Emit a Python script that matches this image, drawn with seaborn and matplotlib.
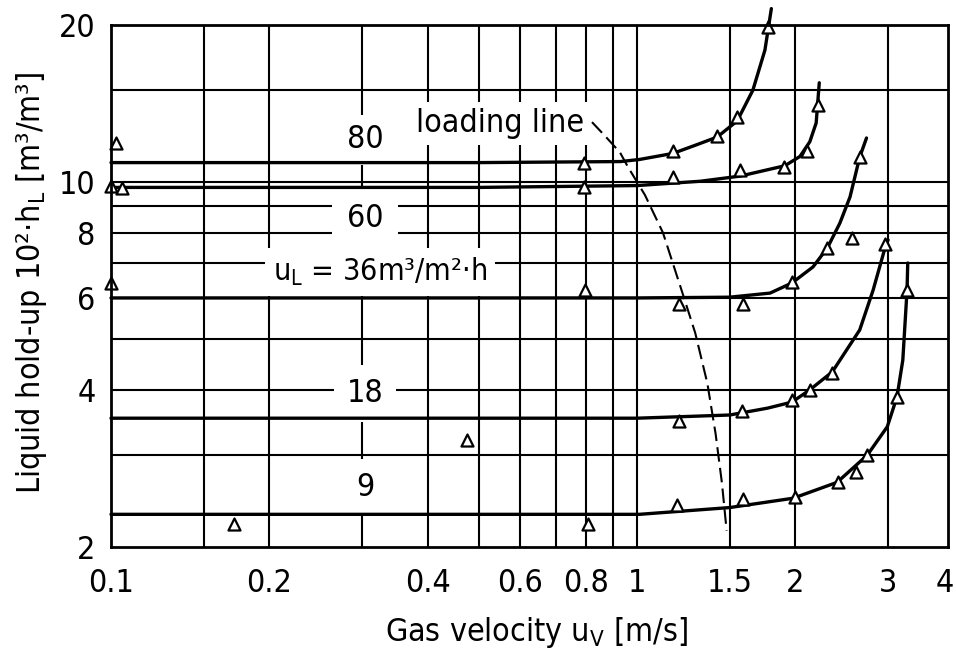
import numpy as np
import pandas as pd
import matplotlib
matplotlib.use("Agg")
import matplotlib.pyplot as plt
from matplotlib import font_manager as fm
from matplotlib.ticker import FixedLocator, FixedFormatter, NullLocator
import seaborn as sns

# ---------------- data ----------------
# liquid load labels [m3/m2 h]
loads = ["80", "60", "36", "18", "9"]

# drawn curves (gas velocity [m/s], hold-up 10^2 h_L)
c80_x = [0.1, 0.5, 0.93, 1.01, 1.17, 1.30, 1.42, 1.55, 1.66, 1.75, 1.80]
c80_y = [10.9, 10.9, 10.95, 11.05, 11.35, 11.8, 12.2, 13.1, 15.0, 17.9, 21.5]
c60_x = [0.1, 0.5, 1.0, 1.32, 1.57, 1.91, 2.04, 2.13, 2.19, 2.22]
c60_y = [9.77, 9.77, 9.85, 10.04, 10.27, 10.75, 11.2, 11.95, 12.98, 15.5]
c36_x = [0.1, 1.0, 1.5, 1.79, 1.97, 2.16, 2.30, 2.43, 2.54, 2.65, 2.73]
c36_y = [6.0, 6.0, 6.02, 6.13, 6.41, 6.88, 7.48, 8.35, 9.37, 11.17, 12.15]
c18_x = [0.1, 1.0, 1.50, 1.77, 1.97, 2.13, 2.35, 2.65, 2.81, 2.96, 3.0]
c18_y = [3.53, 3.53, 3.58, 3.69, 3.79, 4.0, 4.33, 5.21, 6.21, 7.48, 7.75]
c9_x = [0.1, 1.01, 1.50, 1.98, 2.40, 2.74, 2.99, 3.12, 3.20, 3.26, 3.27]
c9_y = [2.31, 2.31, 2.38, 2.48, 2.66, 3.0, 3.40, 3.88, 4.56, 6.21, 7.0]

# measured points (triangles)
m80_x = [0.102, 0.793, 1.17, 1.42, 1.55, 1.775]
m80_y = [11.9, 10.9, 11.47, 12.25, 13.3, 19.8]
m60_x = [0.1, 0.105, 0.793, 1.17, 1.57, 1.90, 2.10, 2.21]
m60_y = [9.83, 9.75, 9.77, 10.25, 10.55, 10.69, 11.47, 14.06]
m36_x = [0.1, 0.797, 1.20, 1.59, 1.97, 2.30, 2.56, 2.65]
m36_y = [6.41, 6.21, 5.84, 5.84, 6.45, 7.48, 7.82, 11.17]
m18_x = [0.475, 1.20, 1.58, 1.97, 2.13, 2.35, 2.96]
m18_y = [3.21, 3.49, 3.64, 3.82, 4.0, 4.3, 7.6]
m9_x = [0.171, 0.807, 1.19, 1.59, 2.0, 2.41, 2.61, 2.74, 3.12, 3.26]
m9_y = [2.21, 2.21, 2.41, 2.47, 2.49, 2.66, 2.78, 3.0, 3.88, 6.21]

# loading line (dashed)
ll_x = [0.821, 0.873, 0.928, 0.961, 1.035, 1.12, 1.22, 1.29, 1.36, 1.41, 1.45, 1.48]
ll_y = [13.03, 12.2, 11.4, 10.69, 9.45, 8.0, 6.13, 5.14, 4.12, 3.30, 2.65, 2.15]

# axes ticks
x_ticks = [0.1, 0.2, 0.4, 0.6, 0.8, 1, 1.5, 2, 3]
x_tick_labels = ["0.1", "0.2", "0.4", "0.6", "0.8", "1", "1.5", "2", "3"]
x_extra_label = ("4", 4.0)
y_ticks = [2, 4, 6, 8, 10, 20]
y_tick_labels = ["2", "4", "6", "8", "10", "20"]
x_grid = [0.15, 0.2, 0.3, 0.4, 0.5, 0.6, 0.7, 0.8, 0.9, 1, 1.5, 2, 3]
y_grid = [3, 4, 5, 6, 7, 8, 9, 10, 15]

# ---------------- styling ----------------
sns.set_style("white")

cond = [f for f in fm.fontManager.ttflist
        if f.name == "DejaVu Sans" and "condensed" in str(f.stretch).lower()]
names = {f.name for f in fm.fontManager.ttflist}
if cond:
    FAMILY, STRETCH, SCALE = "DejaVu Sans", "condensed", 1.0
elif "Liberation Sans Narrow" in names:
    FAMILY, STRETCH, SCALE = "Liberation Sans Narrow", "normal", 1.0
else:
    FAMILY, STRETCH, SCALE = "DejaVu Sans", "normal", 0.85
plt.rcParams["font.family"] = [FAMILY, "DejaVu Sans"]
plt.rcParams["font.stretch"] = STRETCH
plt.rcParams["mathtext.default"] = "regular"
for key in ("text.color", "axes.labelcolor", "xtick.color", "ytick.color"):
    plt.rcParams[key] = "black"

FS = 23 * SCALE

fig = plt.figure(figsize=(9.56, 6.53), dpi=100)
ax = fig.add_axes([111 / 956, 1 - 547 / 653, (948 - 111) / 956, (547 - 25) / 653])
ax.set_xscale("log")
ax.set_yscale("log")
ax.set_xlim(0.1, 3.90)
ax.set_ylim(2, 20)

# grid lines
for gx in x_grid:
    ax.axvline(gx, color="black", lw=1.5, zorder=1)
for gy in y_grid:
    ax.axhline(gy, color="black", lw=1.5, zorder=1)

# curves
curves = pd.concat([
    pd.DataFrame({"u": c80_x, "h": c80_y, "load": "80"}),
    pd.DataFrame({"u": c60_x, "h": c60_y, "load": "60"}),
    pd.DataFrame({"u": c36_x, "h": c36_y, "load": "36"}),
    pd.DataFrame({"u": c18_x, "h": c18_y, "load": "18"}),
    pd.DataFrame({"u": c9_x, "h": c9_y, "load": "9"}),
], ignore_index=True)
sns.lineplot(data=curves, x="u", y="h", units="load", estimator=None,
             color="black", lw=2.4, ax=ax, legend=False, sort=False,
             clip_on=False, zorder=3)

# loading line
ll = pd.DataFrame({"u": ll_x, "h": ll_y})
sns.lineplot(data=ll, x="u", y="h", estimator=None, sort=False, color="black",
             lw=1.5, dashes=False, linestyle=(0, (7, 3)), ax=ax, zorder=3)

# points
pts = pd.concat([
    pd.DataFrame({"u": m80_x, "h": m80_y, "load": "80"}),
    pd.DataFrame({"u": m60_x, "h": m60_y, "load": "60"}),
    pd.DataFrame({"u": m36_x, "h": m36_y, "load": "36"}),
    pd.DataFrame({"u": m18_x, "h": m18_y, "load": "18"}),
    pd.DataFrame({"u": m9_x, "h": m9_y, "load": "9"}),
], ignore_index=True)
sns.scatterplot(data=pts, x="u", y="h", marker="^", s=75, facecolor="white",
                edgecolor="black", linewidth=1.6, ax=ax, legend=False,
                clip_on=False, zorder=5)

# labels on curves (white boxes hide the grid, but not the curves)
def label(x, y, s, pad, fs=FS):
    ax.text(x, y, s, fontsize=fs, ha="center", va="center", zorder=2,
            bbox=dict(boxstyle=f"square,pad={pad}", fc="white", ec="none"))

label(0.304, 12.05, loads[0], 0.3)
label(0.304, 8.53, loads[1], 0.45)
label(0.3245, 6.73, r"u$_L$ = " + loads[2] + "m³/m²·h", 0.25, FS * 0.95)
label(0.304, 3.94, loads[3], 0.4)
label(0.304, 2.60, loads[4], 0.4)
label(0.548, 12.95, "loading line", 0.2)

# ticks
ax.xaxis.set_major_locator(FixedLocator(x_ticks))
ax.xaxis.set_major_formatter(FixedFormatter(x_tick_labels))
ax.xaxis.set_minor_locator(NullLocator())
ax.yaxis.set_major_locator(FixedLocator(y_ticks))
ax.yaxis.set_major_formatter(FixedFormatter(y_tick_labels))
ax.yaxis.set_minor_locator(NullLocator())
ax.tick_params(axis="both", length=0, labelsize=FS, colors="black")
ax.tick_params(axis="x", pad=15)
ax.tick_params(axis="y", pad=11)
ax.text(x_extra_label[1], -15 / 72 * 100 / 522, x_extra_label[0],
        transform=ax.get_xaxis_transform(), fontsize=FS, ha="right", va="top",
        clip_on=False)

for sp in ax.spines.values():
    sp.set_visible(True)
    sp.set_color("black")
    sp.set_linewidth(2.0)
    sp.set_zorder(6)

ax.set_xlabel(r"Gas velocity u$_V$ [m/s]", fontsize=FS, va="center")
ax.xaxis.set_label_coords(0.508, -0.163)
ax.set_ylabel(r"Liquid hold-up 10²·h$_L$ [m³/m³]", fontsize=FS, va="center")
ax.yaxis.set_label_coords(-0.095, 0.505)

fig.savefig("out.png", dpi=100)
